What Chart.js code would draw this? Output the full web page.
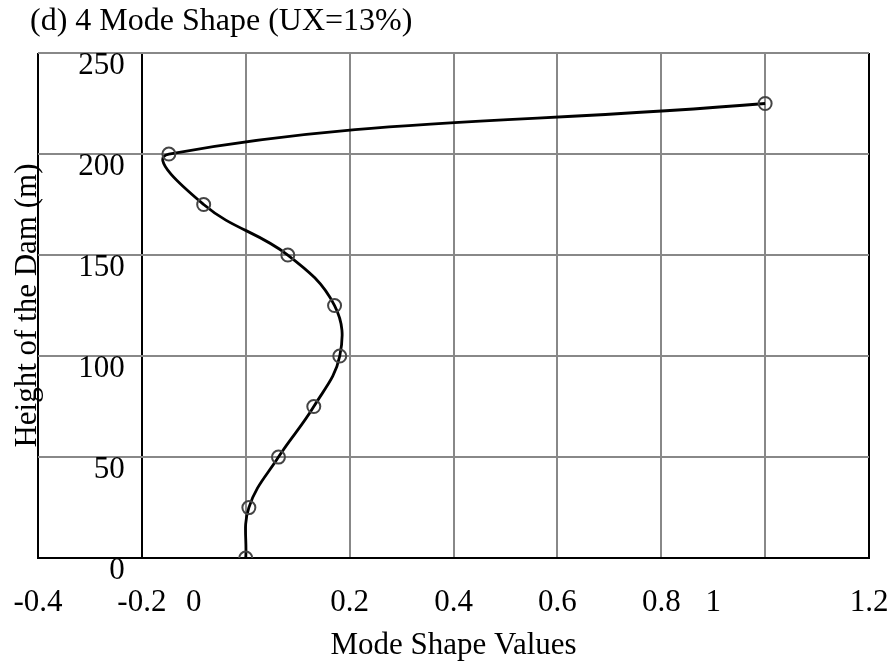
<!DOCTYPE html>
<html>
<head>
<meta charset="utf-8">
<script src="https://cdn.jsdelivr.net/npm/chart.js@4/dist/chart.umd.min.js"></script>
<style>
  html, body { margin: 0; padding: 0; background: #fff; }
  #wrap { width: 896px; height: 670px; position: relative; }
</style>
</head>
<body>
<div id="wrap"><canvas id="c"></canvas></div>
<script>
// Height of each section of the dam (m) and its 4th mode shape ordinate
const heights = [0, 25, 50, 75, 100, 125, 150, 175, 200, 225];
const modeShape = [0, 0.006, 0.063, 0.131, 0.181, 0.171, 0.081, -0.081, -0.148, 1.0];

// Horizontal axis: gridline values and the printed tick labels with where they sit
const xGridValues = [-0.4, -0.2, 0, 0.2, 0.4, 0.6, 0.8, 1.0, 1.2];
const xLabelValues = [-0.4, -0.2, -0.1, 0.2, 0.4, 0.6, 0.8, 0.9, 1.2];
const xLabelTexts = ['-0.4', '-0.2', '0', '0.2', '0.4', '0.6', '0.8', '1', '1.2'];

// Vertical axis ticks
const yTickValues = [0, 50, 100, 150, 200, 250];

const titleText = '(d) 4 Mode Shape (UX=13%)';
const xTitle = 'Mode Shape Values';
const yTitle = 'Height of the Dam (m)';

// The vertical axis line stands at x = -0.2; its labels end a little to the left of it
const AXIS_LINE_X = -0.2;
const Y_LABEL_EDGE_X = -0.233;

const FAMILY = "'Liberation Serif', 'Times New Roman', serif";
const serif = { family: FAMILY, size: 31, weight: 'normal', lineHeight: 1.2 };
const titleFont = { family: FAMILY, size: 32, weight: 'normal', lineHeight: 1.2 };
// x tick labels sit well below the axis line; a tall line box places them there
const xTickFont = { family: FAMILY, size: 31, weight: 'normal', lineHeight: 2.9 };
const GRID = '#888888';
const INK = '#000000';

const same = (a, b) => Math.abs(a - b) < 1e-6;
const allXTicks = [...new Set([...xGridValues, ...xLabelValues].map(v => Math.round(v * 1000) / 1000))].sort((a, b) => a - b);

const points = heights.map((h, i) => ({ x: modeShape[i], y: h }));

new Chart(document.getElementById('c'), {
  type: 'scatter',
  data: {
    datasets: [{
      data: points,
      xAxisID: 'x',
      yAxisID: 'y',
      showLine: true,
      borderColor: INK,
      borderWidth: 2.8,
      tension: 0.4,
      fill: false,
      pointRadius: 6.5,
      pointHoverRadius: 6.5,
      pointBorderWidth: 2,
      pointBorderColor: '#444444',
      pointBackgroundColor: 'rgba(0,0,0,0)'
    }]
  },
  options: {
    responsive: true,
    maintainAspectRatio: false,
    animation: false,
    layout: { padding: { left: 30, right: 27, top: 0, bottom: 0 } },
    plugins: {
      legend: { display: false },
      tooltip: { enabled: false },
      title: {
        display: true,
        text: titleText,
        align: 'start',
        color: INK,
        font: titleFont,
        padding: { top: 2.4, bottom: 12.2 }
      }
    },
    scales: {
      x: {
        type: 'linear',
        axis: 'x',
        position: 'bottom',
        min: -0.4,
        max: 1.2,
        afterBuildTicks: (scale) => { scale.ticks = allXTicks.map(v => ({ value: v })); },
        ticks: {
          autoSkip: false,
          maxRotation: 0,
          minRotation: 0,
          padding: 0,
          color: INK,
          font: xTickFont,
          callback: (value) => {
            const i = xLabelValues.findIndex(v => same(v, value));
            return i >= 0 ? xLabelTexts[i] : '';
          }
        },
        grid: {
          drawTicks: false,
          lineWidth: 2,
          color: (c) => {
            const v = c.tick ? c.tick.value : NaN;
            if (!xGridValues.some(g => same(g, v))) return 'rgba(0,0,0,0)';
            if (same(v, -0.4) || same(v, 1.2) || same(v, AXIS_LINE_X)) return INK;
            return GRID;
          }
        },
        border: { color: INK, width: 2 },
        title: {
          display: true,
          text: xTitle,
          color: INK,
          font: serif,
          padding: { top: -20.6, bottom: 5.4 }
        }
      },
      y: {
        type: 'linear',
        axis: 'y',
        position: { x: Y_LABEL_EDGE_X },
        min: 0,
        max: 250,
        afterBuildTicks: (scale) => { scale.ticks = yTickValues.map(v => ({ value: v })); },
        ticks: {
          padding: 0,
          labelOffset: 12.5,
          color: INK,
          font: serif
        },
        grid: { drawTicks: false, lineWidth: 2, color: GRID },
        border: { display: false }
      },
      yTitle: {
        type: 'linear',
        axis: 'y',
        position: 'left',
        min: 0,
        max: 250,
        ticks: { display: false },
        grid: { display: false, drawTicks: false },
        border: { display: false },
        title: {
          display: true,
          text: yTitle,
          color: INK,
          font: serif,
          padding: { top: -20.6, bottom: -8.6 }
        }
      }
    }
  }
});
</script>
</body>
</html>
